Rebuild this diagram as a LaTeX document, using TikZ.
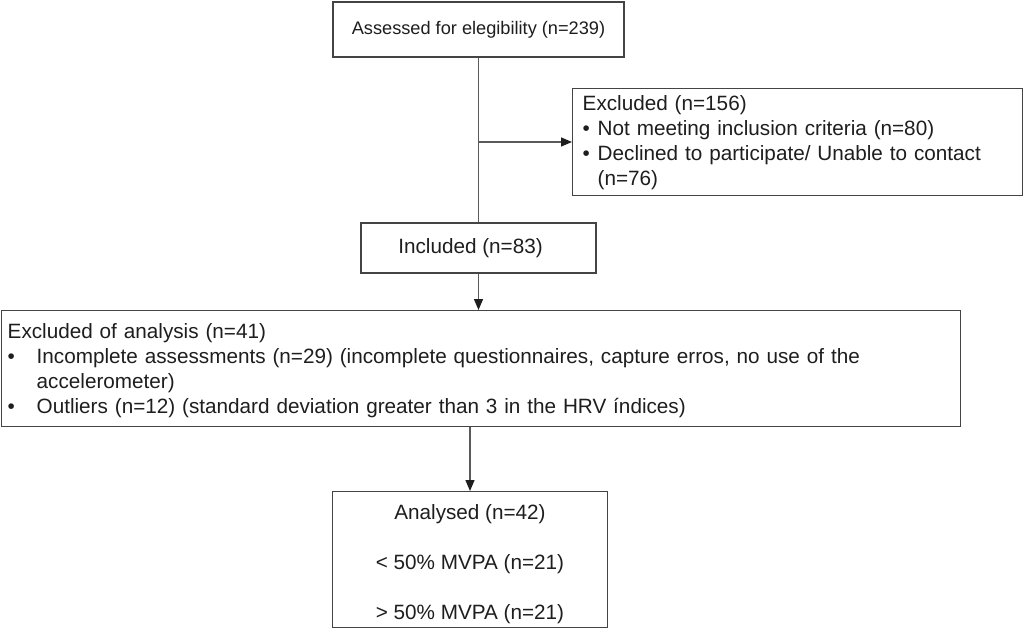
\documentclass[tikz,border=0pt]{standalone}
\usepackage{fontspec}
\setmainfont{Liberation Sans}
\usetikzlibrary{arrows.meta,calc}
\definecolor{boxline}{HTML}{444444}
\definecolor{conn}{HTML}{5A5A5A}
\definecolor{txt}{HTML}{1E1E1E}
\begin{document}
\begin{tikzpicture}[x=1pt,y=-1pt,
  box/.style={draw=boxline,line width=1.4pt,fill=white,text=txt,inner sep=0pt,
    font=\fontsize{20.7}{25}\selectfont},
  link/.style={draw=conn,line width=1.4pt},
  arrowlink/.style={link,-{Triangle[length=11pt,width=9pt,color=txt]}}]
\useasboundingbox (0,0) rectangle (1024,629);
\node[box,minimum width=291pt,minimum height=55pt,font=\fontsize{18.2}{22}\selectfont]
  (assess) at (478.5,29.5) {Assessed for elegibility (n=239)};
\node[box,anchor=north west,minimum width=450pt,minimum height=107pt,
  text width=430pt,inner xsep=10pt,align=left] (excl) at (572,88)
  {\rule{0pt}{14.5pt}Excluded (n=156)\\
   \makebox[15pt][l]{\textbullet}Not meeting inclusion criteria (n=80)\\
   \makebox[15pt][l]{\textbullet}Declined to participate/ Unable to contact\\
   \hspace*{15pt}(n=76)};
\node[box,minimum width=235pt,minimum height=50pt] (incl) at (478.5,248)
  {Included (n=83)\hspace*{16pt}};
\node[box,anchor=north west,minimum width=959pt,minimum height=116pt,
  text width=947pt,inner xsep=6pt,align=left] (exan) at (1,310)
  {\rule{0pt}{19pt}Excluded of analysis (n=41)\\
   \makebox[29pt][l]{\textbullet}Incomplete assessments (n=29) (incomplete questionnaires, capture erros, no use of the\\
   \hspace*{29pt}accelerometer)\\
   \makebox[29pt][l]{\textbullet}Outliers (n=12) (standard deviation greater than 3 in the HRV índices)};
\node[box,anchor=north,minimum width=275pt,minimum height=136pt,align=center] (anal) at (470,491)
  {\rule{0pt}{23.5pt}Analysed (n=42)\\[25pt]
   < 50\% MVPA (n=21)\\[25pt]
   > 50\% MVPA (n=21)};
\coordinate (branch) at (478.5,142);
\draw[link] (assess.south) -- (incl.north);
\draw[arrowlink] (branch) -- (branch -| excl.west);
\draw[arrowlink] (incl.south) -- (incl.south |- exan.north);
\draw[arrowlink] (anal.north |- exan.south) -- (anal.north);
\end{tikzpicture}
\end{document}
